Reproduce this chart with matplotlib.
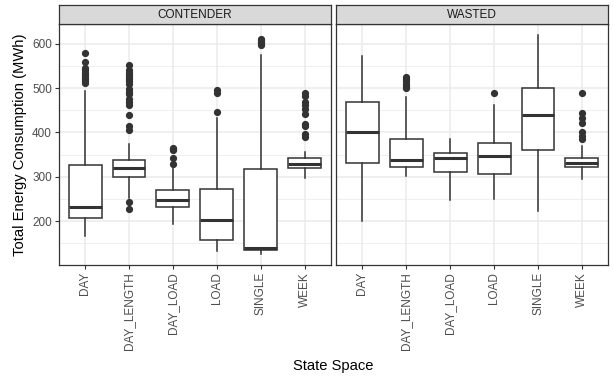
import matplotlib
matplotlib.use("Agg")
import matplotlib.pyplot as plt

plt.rcParams['font.family'] = ['Liberation Sans', 'DejaVu Sans']

categories = ["DAY", "DAY_LENGTH", "DAY_LOAD", "LOAD", "SINGLE", "WEEK"]
panels = ["CONTENDER", "WASTED"]

# per-panel box statistics, one entry per category
whislo = {
    "CONTENDER": [167, 253, 193, 132, 126, 298],
    "WASTED":    [201, 302, 248, 250, 222, 295],
}
q1 = {
    "CONTENDER": [207, 300, 232, 157, 135, 319],
    "WASTED":    [332, 321, 311, 306, 361, 322],
}
med = {
    "CONTENDER": [232, 319, 248, 202, 140, 329],
    "WASTED":    [402, 337, 343, 346, 439, 331],
}
q3 = {
    "CONTENDER": [326, 337, 270, 272, 318, 342],
    "WASTED":    [469, 386, 354, 377, 500, 342],
}
whishi = {
    "CONTENDER": [494, 374, 319, 433, 574, 357],
    "WASTED":    [572, 481, 385, 463, 620, 370],
}
fliers = {
    "CONTENDER": [
        [580, 560, 545, 540, 535, 530, 525, 520, 515, 512],
        [552, 540, 535, 530, 525, 520, 515, 510, 497, 492, 487, 475,
         468, 462, 440, 414, 405, 242, 227],
        [366, 362, 360, 343, 328],
        [495, 490, 446],
        [611, 608, 605, 601, 598],
        [488, 482, 469, 461, 454, 442, 420, 414, 397, 390],
    ],
    "WASTED": [
        [],
        [525, 520, 515, 510, 505, 500],
        [],
        [488],
        [],
        [488, 443, 433, 422, 401, 391, 385],
    ],
}

grey20 = "#333333"
grey30 = "#4D4D4D"
grey92 = "#EBEBEB"

fig = plt.figure(figsize=(6.13, 3.76), dpi=100)
W, H = 613, 376
panel_left = [58.7, 336.0]
panel_w = 272.3
top, bottom = 24.3, 265.0
strip_top = 4.7

for i, name in enumerate(panels):
    ax = fig.add_axes([panel_left[i] / W, (H - bottom) / H,
                       panel_w / W, (bottom - top) / H])

    stats = []
    for j, cat in enumerate(categories):
        stats.append(dict(label=cat, whislo=whislo[name][j], q1=q1[name][j],
                          med=med[name][j], q3=q3[name][j],
                          whishi=whishi[name][j], fliers=fliers[name][j]))

    ax.bxp(stats, positions=range(1, 7), widths=0.75, patch_artist=True,
           showcaps=False,
           boxprops=dict(facecolor="white", edgecolor=grey20, linewidth=1.1),
           medianprops=dict(color=grey20, linewidth=2.2),
           whiskerprops=dict(color=grey20, linewidth=1.1),
           flierprops=dict(marker="o", markersize=4.2, markerfacecolor=grey20,
                           markeredgecolor=grey20, linestyle="none"),
           zorder=3)

    ax.set_xlim(0.4, 6.6)
    ax.set_ylim(101, 644)
    ax.set_yticks([200, 300, 400, 500, 600])
    ax.set_yticks([150, 250, 350, 450, 550], minor=True)
    ax.set_xticks(range(1, 7))
    ax.set_xticklabels(categories, rotation=90, fontsize=8.5, color=grey30)
    ax.grid(True, which="major", color=grey92, linewidth=1.1, zorder=0)
    ax.grid(True, which="minor", axis="y", color=grey92, linewidth=0.55, zorder=0)
    ax.set_axisbelow(True)
    ax.tick_params(axis="both", which="major", length=2.7, width=0.8,
                   color=grey20, pad=2.2)
    ax.tick_params(axis="y", which="minor", length=0)
    ax.tick_params(axis="y", labelsize=8.5, labelcolor=grey30)
    for s in ax.spines.values():
        s.set_color(grey20)
        s.set_linewidth(0.9)
    if i == 1:
        ax.tick_params(axis="y", which="both", left=False, labelleft=False)

    # facet strip
    sax = fig.add_axes([panel_left[i] / W, (H - top) / H,
                        panel_w / W, (top - strip_top) / H])
    sax.set_xticks([])
    sax.set_yticks([])
    sax.set_facecolor("#D9D9D9")
    for s in sax.spines.values():
        s.set_color(grey20)
        s.set_linewidth(0.9)
    sax.text(0.5, 0.5, name, ha="center", va="center", fontsize=8.5,
             color="#1A1A1A", transform=sax.transAxes)

fig.text(20 / W, 1 - 145 / H, "Total Energy Consumption (MWh)", rotation=90,
         ha="center", va="center", fontsize=10.6)
fig.text(333 / W, 1 - 366 / H, "State Space", ha="center", va="center",
         fontsize=10.6)

fig.savefig("out.png", dpi=100)
